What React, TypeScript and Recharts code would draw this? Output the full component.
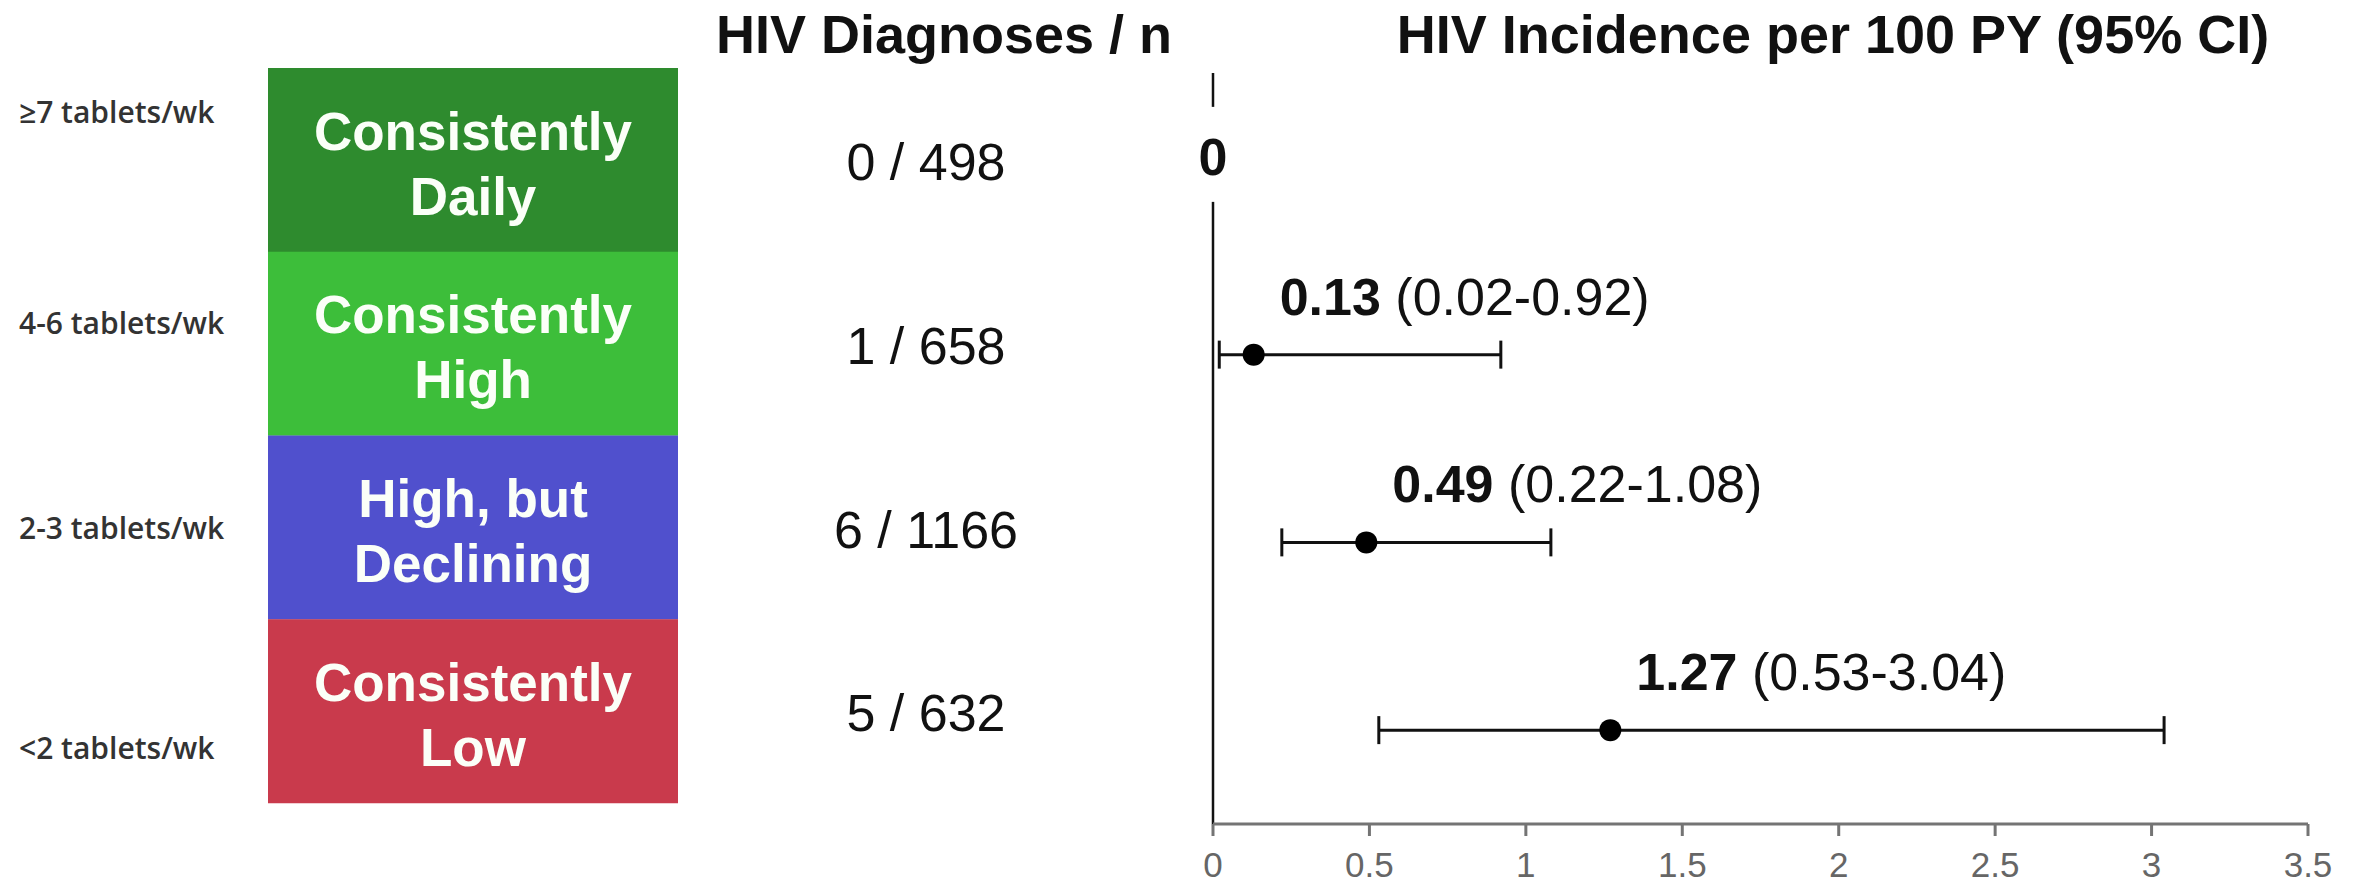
import { BarChart, Bar, XAxis, YAxis, ComposedChart, Scatter, ErrorBar, ReferenceLine } from 'recharts';

// adherence groups, top to bottom
const GROUP_LINES = [
  ['Consistently', 'Daily'],
  ['Consistently', 'High'],
  ['High, but', 'Declining'],
  ['Consistently', 'Low'],
];
const DOSING = ['≥7 tablets/wk', '4-6 tablets/wk', '2-3 tablets/wk', '<2 tablets/wk'];
const DIAGNOSES = [0, 1, 6, 5];
const N = [498, 658, 1166, 632];
const INCIDENCE = [0, 0.13, 0.49, 1.27];
const CI_LOW = [0, 0.02, 0.22, 0.53];
const CI_HIGH = [0, 0.92, 1.08, 3.04];
const X_TICKS = [0, 0.5, 1, 1.5, 2, 2.5, 3, 3.5];

const GROUP_COLORS = ['#2E8B2E', '#3DBE3A', '#5050CD', '#C93A4C'];
// dosing labels in the source sit a bit off the box centres
const DOSING_DY = [-49, -21, 0, 36];

const FONT = '"Liberation Sans", Arial, Helvetica, sans-serif';
const LABEL_FONT = '"Open Sans", "DejaVu Sans", sans-serif';

const groupData = GROUP_LINES.map((lines, i) => ({
  name: lines.join(' '),
  span: 1,
  lines,
  dosing: DOSING[i],
  count: `${DIAGNOSES[i]} / ${N[i]}`,
  color: GROUP_COLORS[i],
  dy: DOSING_DY[i],
}));

const rows = INCIDENCE.map((rate, i) => ({
  row: i,
  rate,
  events: DIAGNOSES[i],
  lo: CI_LOW[i],
  hi: CI_HIGH[i],
  err: [rate - CI_LOW[i], CI_HIGH[i] - rate],
}));
const zeroRows = rows.filter((r) => r.events === 0);
const rateRows = rows.filter((r) => r.events > 0);

function GroupBox(props: any) {
  const { x, y, width, height, payload } = props;
  const cy = y + height / 2;
  const cx = x + width / 2;
  return (
    <g>
      <rect x={x} y={y} width={width} height={height} fill={payload.color} />
      <text x={cx} y={cy - 29} textAnchor="middle" dominantBaseline="central" fontSize={53} fontWeight={700} fill="#fbfff8" fontFamily={FONT}>
        {payload.lines[0]}
      </text>
      <text x={cx} y={cy + 36} textAnchor="middle" dominantBaseline="central" fontSize={53} fontWeight={700} fill="#fbfff8" fontFamily={FONT}>
        {payload.lines[1]}
      </text>
      <text x={19} y={cy + payload.dy} dominantBaseline="central" fontSize={30} fontWeight={600} fill="#333" fontFamily={LABEL_FONT}>
        {payload.dosing}
      </text>
      <text x={x + width + 248} y={cy + 2} textAnchor="middle" dominantBaseline="central" fontSize={52} fill="#111" fontFamily={FONT}>
        {payload.count}
      </text>
    </g>
  );
}

function ZeroMark(props: any) {
  const { cx, cy } = props;
  return (
    <g>
      <rect x={cx - 24} y={cy - 60} width={48} height={95} fill="#fff" />
      <text x={cx} y={cy - 10} textAnchor="middle" dominantBaseline="central" fontSize={52} fontWeight={700} fill="#111" fontFamily={FONT}>
        0
      </text>
    </g>
  );
}

function RateMark(props: any) {
  const { cx, cy, payload } = props;
  return (
    <g>
      <circle cx={cx} cy={cy} r={11} fill="#000" />
      <text x={cx + 26} y={cy - 40} fontSize={52} fill="#111" fontFamily={FONT}>
        <tspan fontWeight={700}>{payload.rate.toFixed(2)}</tspan>
        {` (${payload.lo.toFixed(2)}-${payload.hi.toFixed(2)})`}
      </text>
    </g>
  );
}

export default function App() {
  return (
    <div
      style={{
        position: 'absolute',
        left: 0,
        top: 0,
        width: 2359,
        height: 884,
        background: '#fff',
        overflow: 'hidden',
        fontFamily: FONT,
      }}
    >
      {/* group boxes + dosing + counts */}
      <div style={{ position: 'absolute', left: 0, top: 0 }}>
        <BarChart
          width={1190}
          height={884}
          data={groupData}
          layout="vertical"
          barCategoryGap={0}
          margin={{ top: 68, right: 512, bottom: 81, left: 268 }}
        >
          <XAxis type="number" domain={[0, 1]} hide />
          <YAxis type="category" dataKey="name" hide />
          <Bar dataKey="span" shape={GroupBox} isAnimationActive={false} />
        </BarChart>
      </div>

      {/* forest plot */}
      <div style={{ position: 'absolute', left: 1100, top: 0 }}>
        <ComposedChart width={1259} height={884} margin={{ top: 73, right: 51, bottom: 10, left: 113 }}>
          <XAxis
            type="number"
            dataKey="rate"
            domain={[0, 3.5]}
            ticks={X_TICKS}
            interval={0}
            height={50}
            tickSize={12}
            tickMargin={16}
            axisLine={{ stroke: '#747474', strokeWidth: 3 }}
            tickLine={{ stroke: '#747474', strokeWidth: 3 }}
            tick={{ fill: '#666', fontSize: 35, fontFamily: FONT }}
          />
          <YAxis type="number" dataKey="row" domain={[-0.5, 3.5]} reversed hide />
          <ReferenceLine x={0} stroke="#111" strokeWidth={2.5} />
          <Scatter data={zeroRows} shape={ZeroMark} isAnimationActive={false} />
          <Scatter data={rateRows} shape={RateMark} isAnimationActive={false}>
            <ErrorBar dataKey="err" direction="x" width={14} stroke="#111" strokeWidth={3} />
          </Scatter>
        </ComposedChart>
      </div>

      <div
        style={{
          position: 'absolute',
          left: 694,
          top: 7,
          width: 500,
          textAlign: 'center',
          fontSize: 54,
          lineHeight: '54px',
          fontWeight: 700,
          color: '#111',
        }}
      >
        HIV Diagnoses / n
      </div>
      <div
        style={{
          position: 'absolute',
          left: 1333,
          top: 7,
          width: 1000,
          textAlign: 'center',
          fontSize: 54,
          lineHeight: '54px',
          fontWeight: 700,
          color: '#111',
        }}
      >
        HIV Incidence per 100 PY (95% CI)
      </div>
    </div>
  );
}
